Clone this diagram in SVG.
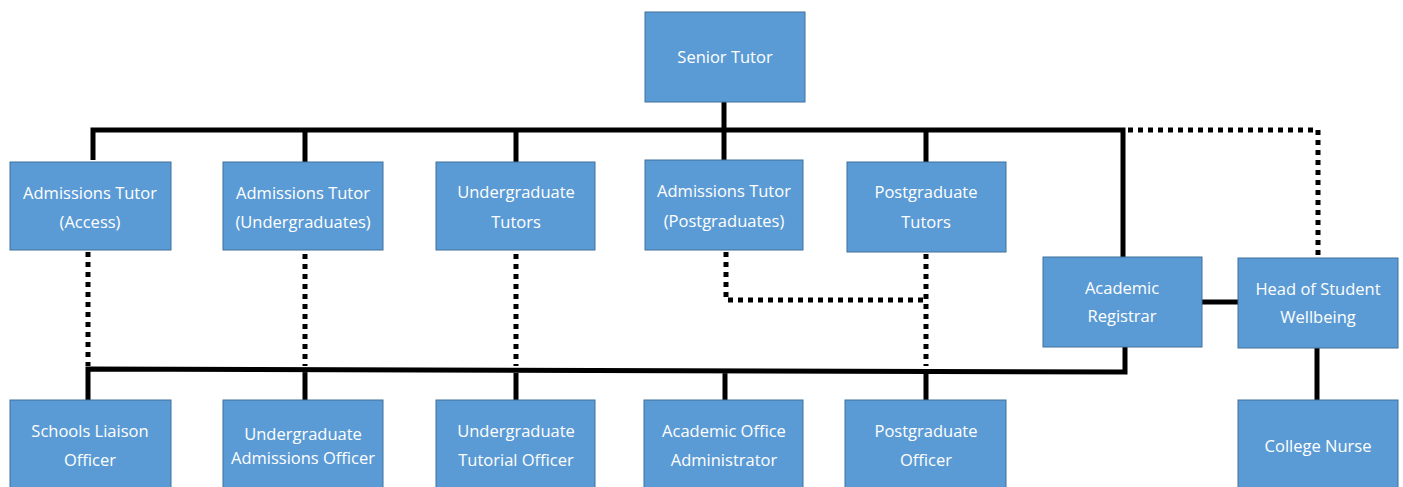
<svg xmlns="http://www.w3.org/2000/svg" width="1403" height="487" viewBox="0 0 1403 487">
<style>
.box{fill:#5B9BD5;stroke:#41719C;stroke-width:1}
.t{font-family:"Open Sans","Liberation Sans",sans-serif;font-size:16.5px;fill:#ffffff;text-anchor:middle}
.s{fill:none;stroke:#000;stroke-width:5}
.d{fill:none;stroke:#000;stroke-width:5;stroke-dasharray:5 5}
</style>
<rect width="1403" height="487" fill="#ffffff"/>
<g id="connectors">
<path class="s" d="M724 102V130M93 160V130H1123V257M305 130V162M516 130V162M724 130V160M926 130V162"/>
<path class="d" d="M1128 130H1318V258"/>
<path class="d" d="M88 252V366M305 254V366M516 254V366M726 252V300H926M926 254V366"/>
<path class="s" d="M88 400V369L1125 372V347M305 369V400M516 370V400M725 370V400M926 371V400"/>
<path class="s" d="M1202 302H1238M1317 348V400"/>
</g>
<g id="senior-tutor"><rect class="box" x="645" y="12" width="160" height="90"/><text class="t" x="725" y="63">Senior Tutor</text></g>
<g id="adm-access"><rect class="box" x="10" y="162" width="161" height="88"/><text class="t" x="90" y="199">Admissions Tutor</text><text class="t" x="90" y="228">(Access)</text></g>
<g id="adm-ug"><rect class="box" x="223" y="162" width="160" height="88"/><text class="t" x="303" y="199">Admissions Tutor</text><text class="t" x="303" y="228">(Undergraduates)</text></g>
<g id="ug-tutors"><rect class="box" x="436" y="162" width="159" height="88"/><text class="t" x="516" y="198">Undergraduate</text><text class="t" x="516" y="228">Tutors</text></g>
<g id="adm-pg"><rect class="box" x="645" y="160" width="158" height="90"/><text class="t" x="724" y="197">Admissions Tutor</text><text class="t" x="724" y="227">(Postgraduates)</text></g>
<g id="pg-tutors"><rect class="box" x="847" y="162" width="159" height="90"/><text class="t" x="926" y="198">Postgraduate</text><text class="t" x="926" y="228">Tutors</text></g>
<g id="acad-registrar"><rect class="box" x="1043" y="257" width="159" height="90"/><text class="t" x="1122" y="294">Academic</text><text class="t" x="1122" y="322">Registrar</text></g>
<g id="head-wellbeing"><rect class="box" x="1238" y="258" width="160" height="90"/><text class="t" x="1318" y="295">Head of Student</text><text class="t" x="1318" y="323">Wellbeing</text></g>
<g id="schools-liaison"><rect class="box" x="10" y="400" width="161" height="95"/><text class="t" x="90" y="437">Schools Liaison</text><text class="t" x="90" y="466">Officer</text></g>
<g id="ug-adm-officer"><rect class="box" x="223" y="400" width="160" height="95"/><text class="t" x="303" y="440">Undergraduate</text><text class="t" x="303" y="464">Admissions Officer</text></g>
<g id="ug-tut-officer"><rect class="box" x="436" y="400" width="159" height="95"/><text class="t" x="516" y="437">Undergraduate</text><text class="t" x="516" y="466">Tutorial Officer</text></g>
<g id="acad-office-admin"><rect class="box" x="644" y="400" width="159" height="95"/><text class="t" x="724" y="437">Academic Office</text><text class="t" x="724" y="466">Administrator</text></g>
<g id="pg-officer"><rect class="box" x="845" y="400" width="161" height="95"/><text class="t" x="926" y="437">Postgraduate</text><text class="t" x="926" y="466">Officer</text></g>
<g id="college-nurse"><rect class="box" x="1238" y="400" width="160" height="95"/><text class="t" x="1318" y="452">College Nurse</text></g>
</svg>
